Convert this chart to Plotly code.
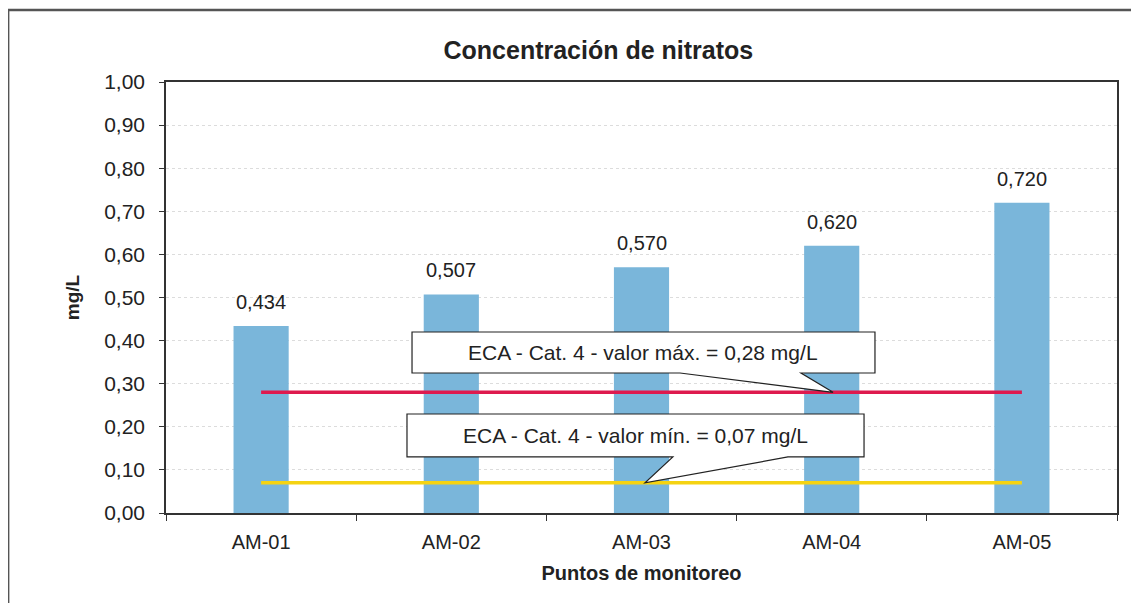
import plotly.graph_objects as go

categories = ["AM-01", "AM-02", "AM-03", "AM-04", "AM-05"]
nitratos = [0.434, 0.507, 0.570, 0.620, 0.720]
eca_max = 0.28
eca_min = 0.07
label_max = "ECA - Cat. 4 - valor máx. = 0,28 mg/L"
label_min = "ECA - Cat. 4 - valor mín. = 0,07 mg/L"

FONT = "Liberation Sans, Arial, sans-serif"

fig = go.Figure()
fig.add_trace(go.Bar(
    x=categories, y=nitratos, width=0.29,
    marker=dict(color="#7ab6da", line=dict(width=0)),
    showlegend=False,
))
for c, v in zip(categories, nitratos):
    fig.add_annotation(x=c, y=v, yshift=24, text=f"{v:.3f}".replace(".", ","),
                       showarrow=False, font=dict(size=20, color="#222", family=FONT))
fig.add_trace(go.Scatter(
    x=categories, y=[eca_max] * len(categories), mode="lines",
    line=dict(color="#de1a4e", width=3.5), showlegend=False,
))
fig.add_trace(go.Scatter(
    x=categories, y=[eca_min] * len(categories), mode="lines",
    line=dict(color="#f5d312", width=3.5), showlegend=False,
))

def callout(x0, x1, ytop, ybot, bl, br, tipx, tipy, text):
    path = (f"M {x0},{ytop} L {x1},{ytop} L {x1},{ybot} L {br},{ybot} "
            f"L {tipx},{tipy} L {bl},{ybot} L {x0},{ybot} Z")
    fig.add_shape(type="path", path=path, xref="paper", yref="y",
                  fillcolor="white", line=dict(color="#222", width=1.2),
                  layer="above")
    fig.add_annotation(x=(x0 + x1) / 2, y=(ytop + ybot) / 2, xref="paper", yref="y",
                       text=text, showarrow=False,
                       font=dict(size=21, color="#222", family=FONT))

callout(0.2587, 0.7455, 0.42, 0.3248, 0.5405, 0.6677, 0.7014, eca_max, label_max)
callout(0.2534, 0.734, 0.2297, 0.13, 0.533, 0.654, 0.5037, eca_min, label_min)

# outer frame
fig.add_shape(type="rect", xref="paper", yref="paper",
              x0=-0.166, x1=1.04, y0=-0.4, y1=1.167,
              line=dict(color="#555", width=2.5), fillcolor="rgba(0,0,0,0)", layer="below")

fig.update_layout(
    width=1131, height=595,
    margin=dict(l=158, r=22, t=74, b=90),
    paper_bgcolor="white", plot_bgcolor="white",
    separators=", ",
    font=dict(family=FONT, color="#222"),
    title=dict(text="<b>Concentración de nitratos</b>", x=0.522, xref="container",
               xanchor="center", y=0.929, yanchor="middle", yref="container",
               font=dict(size=25, color="#222", family=FONT)),
    xaxis=dict(
        showline=True, linecolor="#333", linewidth=1.5, mirror=True,
        ticks="outside", tickson="boundaries", ticklen=6, tickcolor="#333",
        tickfont=dict(size=20, color="#222"), ticklabelstandoff=10,
        title=dict(text="<b>Puntos de monitoreo</b>", font=dict(size=20), standoff=14),
        showgrid=False,
    ),
    yaxis=dict(
        range=[0, 1.0], dtick=0.1, tickformat=".2f",
        showline=True, linecolor="#333", linewidth=1.5, mirror=True,
        ticks="outside", ticklen=5, tickcolor="#333",
        tickfont=dict(size=21, color="#222"), ticklabelstandoff=10,
        gridcolor="#dcdcdc", griddash="dot", gridwidth=1,
        zeroline=False,
        title=dict(text="<b>mg/L</b>", font=dict(size=19), standoff=20),
    ),
)

fig.write_html("out.html")
